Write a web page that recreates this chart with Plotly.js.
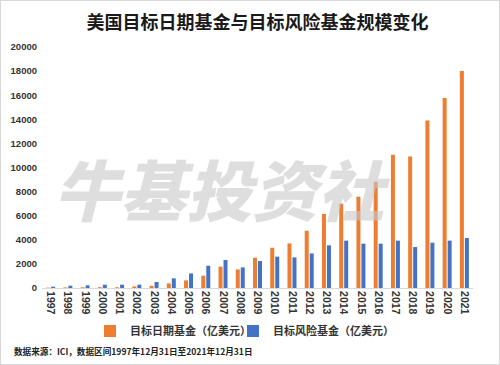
<!DOCTYPE html>
<html>
<head>
<meta charset="utf-8">
<script src="https://cdn.plot.ly/plotly-3.0.1.min.js"></script>
<style>
html,body{margin:0;padding:0;background:#fff;}
#wrap{position:relative;width:500px;height:365px;}
#chart{width:500px;height:365px;}
#frame{position:absolute;left:0;top:0;width:500px;height:365px;box-sizing:border-box;border:1px solid #d9d9d9;pointer-events:none;}
</style>
</head>
<body>
<div id="wrap"><div id="chart"></div><div id="frame"></div></div>
<script>
const years = ['1997','1998','1999','2000','2001','2002','2003','2004','2005','2006','2007','2008','2009','2010','2011','2012','2013','2014','2015','2016','2017','2018','2019','2020','2021'];
const targetDate = [30,50,60,70,60,130,180,380,630,1020,1770,1540,2510,3340,3700,4750,6140,7000,7580,8820,11060,10920,13910,15770,18010];
const targetRisk = [110,190,220,275,275,275,500,800,1210,1850,2320,1710,2240,2600,2540,2870,3540,3930,3680,3680,3930,3400,3760,3930,4150];
const seriesNames = ['目标日期基金（亿美元）','目标风险基金（亿美元）'];
const titleText = '美国目标日期基金与目标风险基金规模变化';
const sourceText = '数据来源：ICI，数据区间1997年12月31日至2021年12月31日';
const watermark = '牛基投资社';

const FONT = 'Liberation Sans, Arial, Noto Sans CJK SC, sans-serif';
const CJK = 'Noto Sans CJK SC, Liberation Sans, sans-serif';
const COLORS = ['#ED7D31','#4472C4'];

const traces = [
  {type:'bar', name:seriesNames[0], x:years, y:targetDate, marker:{color:COLORS[0]}, legend:'legend'},
  {type:'bar', name:seriesNames[1], x:years, y:targetRisk, marker:{color:COLORS[1]}, legend:'legend2'}
];

const legendFont = {family:CJK, size:11, color:'#333', weight:700};
const layout = {
  width:500, height:365,
  margin:{l:42, r:27, t:47, b:76.5},
  paper_bgcolor:'#fff', plot_bgcolor:'rgba(0,0,0,0)',
  barmode:'group', bargap:0.42, bargroupgap:0.2,
  showlegend:true,
  title:{text:titleText, x:0.5, xref:'paper', xanchor:'center', y:1-22.5/365, yanchor:'middle', yref:'container',
         font:{family:CJK, size:18, color:'#1a1a1a', weight:700}},
  xaxis:{type:'category', tickangle:90, showgrid:false, zeroline:false, showline:true, linecolor:'#d9d9d9', linewidth:1,
         ticks:'', tickfont:{family:FONT, size:10.5, color:'#333', weight:700}, fixedrange:true},
  yaxis:{range:[0,20000], dtick:2000, tickformat:'d', showgrid:false, zeroline:false, showline:false, ticks:'',
         tickfont:{family:FONT, size:9.5, color:'#333', weight:700}, fixedrange:true, ticklabelstandoff:4},
  legend:{orientation:'h', x:(90-42)/431, xanchor:'left', y:-0.178, yanchor:'middle', font:legendFont, itemwidth:30, bgcolor:'rgba(0,0,0,0)'},
  legend2:{orientation:'h', x:(233-42)/431, xanchor:'left', y:-0.178, yanchor:'middle', font:legendFont, itemwidth:30, bgcolor:'rgba(0,0,0,0)'},
  annotations:[
    {text:watermark, xref:'paper', yref:'paper', x:0.418, y:0.42, showarrow:false,
     font:{family:CJK, size:66, color:'rgba(200,200,200,0.6)', weight:900, style:'italic'}},
    {text:sourceText, xref:'paper', yref:'paper', x:(12-42)/431, xanchor:'left', y:-(352-288.5)/241.5, yanchor:'middle', showarrow:false,
     font:{family:CJK, size:8.6, color:'#222', weight:700}}
  ]
};

Plotly.newPlot('chart', traces, layout, {displayModeBar:false, staticPlot:true});
</script>
</body>
</html>
